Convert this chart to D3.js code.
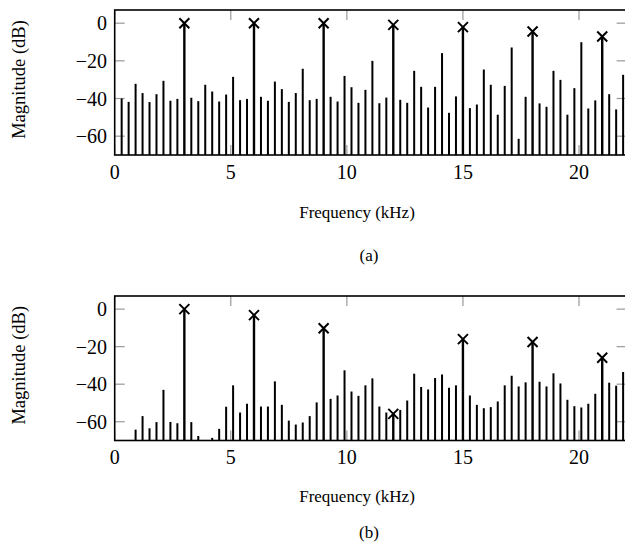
<!DOCTYPE html>
<html>
<head>
<meta charset="utf-8">
<script src="https://cdn.jsdelivr.net/npm/d3@7"></script>
<style>
  body { margin: 0; background: #fff; }
  text { font-family: "Liberation Serif", "Times New Roman", serif; fill: #000; }
</style>
</head>
<body>
<svg id="chart" width="625" height="547"></svg>
<script>
// frequency bins (kHz)
const freqs = [0.3, 0.6, 0.9, 1.2, 1.5, 1.8, 2.1, 2.4, 2.7, 3.0,
  3.3, 3.6, 3.9, 4.2, 4.5, 4.8, 5.1, 5.4, 5.7, 6.0,
  6.3, 6.6, 6.9, 7.2, 7.5, 7.8, 8.1, 8.4, 8.7, 9.0,
  9.3, 9.6, 9.9, 10.2, 10.5, 10.8, 11.1, 11.4, 11.7, 12.0,
  12.3, 12.6, 12.9, 13.2, 13.5, 13.8, 14.1, 14.4, 14.7, 15.0,
  15.3, 15.6, 15.9, 16.2, 16.5, 16.8, 17.1, 17.4, 17.7, 18.0,
  18.3, 18.6, 18.9, 19.2, 19.5, 19.8, 20.1, 20.4, 20.7, 21.0,
  21.3, 21.6, 21.9];

// (a) magnitudes in dB, null where the harmonic stem sits
const magA = [-40.0, -41.8, -32.2, -37.1, -41.9, -37.7, -30.6, -41.2, -40.2, null,
  -39.6, -41.4, -32.7, -36.3, -41.6, -37.9, -28.5, -40.9, -40.2, null,
  -39.1, -41.2, -31.0, -35.0, -41.8, -37.1, -24.2, -40.9, -40.2, null,
  -39.1, -41.6, -28.0, -34.0, -42.3, -35.4, -20.0, -42.5, -39.5, null,
  -40.7, -42.3, -25.3, -33.8, -44.8, -33.8, -15.9, -47.6, -38.9, null,
  -45.1, -43.2, -24.6, -32.7, -48.6, -33.3, -12.9, -61.4, -39.1, null,
  -42.6, -44.4, -25.3, -30.1, -48.6, -34.5, -10.1, -45.3, -41.0, null,
  -37.7, -45.8, -27.4];

// (b) magnitudes in dB (null: below the axis floor or harmonic)
const magB = [null, null, -64.2, -57.0, -63.5, -60.2, -43.0, -60.1, -60.8, null,
  -60.2, -67.6, null, -68.6, -63.8, -52.0, -40.6, -55.1, -50.4, null,
  -51.9, -51.9, -38.5, -51.0, -59.4, -61.5, -60.4, -57.0, -49.7, null,
  -47.8, -46.0, -32.6, -43.9, -46.2, -40.6, -36.9, -51.9, -55.1, null,
  -53.7, -48.7, -34.4, -41.5, -42.8, -36.7, -34.8, -41.9, -40.6, null,
  -46.0, -51.0, -52.8, -52.2, -49.2, -40.6, -35.5, -41.2, -39.0, null,
  -38.7, -41.2, -34.2, -39.6, -48.3, -51.7, -52.4, -50.4, -45.1, null,
  -39.2, -40.8, -33.5];

const harmFreqs = [3, 6, 9, 12, 15, 18, 21];
const harmA = [0, 0, 0, -0.9, -2.1, -4.4, -7.1];
const harmB = [0, -3.2, -10.2, -55.8, -16.0, -17.5, -25.9];

const xTicks = [0, 5, 10, 15, 20];
const yTicks = [-60, -40, -20, 0];

const svg = d3.select('#chart');

const left = 114.7, right = 626.6;
const x = d3.scaleLinear().domain([0, 22.05]).range([left, right]);

function drawPanel(cfg) {
  const y = d3.scaleLinear().domain([-70, 7]).range([cfg.bottom, cfg.top]);
  const g = svg.append('g');

  // ticks (inside, gray, mirrored)
  const tickLen = 10;
  g.selectAll('.xt').data(xTicks).enter().append('g')
    .each(function (d) {
      const s = d3.select(this);
      s.append('line').attr('x1', x(d)).attr('x2', x(d))
        .attr('y1', cfg.bottom).attr('y2', cfg.bottom - tickLen);
      s.append('line').attr('x1', x(d)).attr('x2', x(d))
        .attr('y1', cfg.top).attr('y2', cfg.top + tickLen);
    })
    .selectAll('line').attr('stroke', '#999').attr('stroke-width', 1.2);

  g.selectAll('.yt').data(yTicks).enter().append('g')
    .each(function (d) {
      const s = d3.select(this);
      s.append('line').attr('x1', left).attr('x2', left + tickLen)
        .attr('y1', y(d)).attr('y2', y(d));
      s.append('line').attr('x1', right).attr('x2', right - tickLen)
        .attr('y1', y(d)).attr('y2', y(d));
    })
    .selectAll('line').attr('stroke', '#999').attr('stroke-width', 1.2);

  // spectrum bars
  const bars = freqs.map((f, i) => ({ f: f, v: cfg.mags[i] })).filter(d => d.v != null);
  g.selectAll('.bar').data(bars).enter().append('line')
    .attr('x1', d => x(d.f)).attr('x2', d => x(d.f))
    .attr('y1', y(-70)).attr('y2', d => y(d.v))
    .attr('stroke', '#000').attr('stroke-width', 2);

  // harmonic stems with x markers
  const harm = harmFreqs.map((f, i) => ({ f: f, v: cfg.harm[i] }));
  g.selectAll('.stem').data(harm).enter().append('line')
    .attr('x1', d => x(d.f)).attr('x2', d => x(d.f))
    .attr('y1', y(-70)).attr('y2', d => y(d.v))
    .attr('stroke', '#000').attr('stroke-width', 2.4);

  const m = 5;
  g.selectAll('.mark').data(harm).enter().append('path')
    .attr('d', d => {
      const cx = x(d.f), cy = y(d.v);
      return `M${cx - m},${cy - m}L${cx + m},${cy + m}M${cx - m},${cy + m}L${cx + m},${cy - m}`;
    })
    .attr('stroke', '#000').attr('stroke-width', 2).attr('fill', 'none');

  // frame
  g.append('rect')
    .attr('x', left).attr('y', cfg.top)
    .attr('width', right - left).attr('height', cfg.bottom - cfg.top)
    .attr('fill', 'none').attr('stroke', '#000').attr('stroke-width', 1.6);

  // tick labels
  const fmt = d3.format('d');
  g.selectAll('.xl').data(xTicks).enter().append('text')
    .attr('x', d => x(d)).attr('y', cfg.bottom + cfg.tickDy)
    .attr('text-anchor', 'middle').style('font-size', '20px')
    .text(d => fmt(d));

  g.selectAll('.yl').data(yTicks).enter().append('text')
    .attr('x', 107).attr('y', d => y(d) + 7)
    .attr('text-anchor', 'end').style('font-size', '20px')
    .text(d => fmt(d));

  // axis labels
  g.append('text')
    .attr('x', 357).attr('y', cfg.bottom + cfg.labelDy)
    .attr('text-anchor', 'middle').style('font-size', '17px')
    .text('Frequency (kHz)');

  g.append('text')
    .attr('transform', `translate(25,${(cfg.top + cfg.bottom) / 2 - 3}) rotate(-90)`)
    .attr('text-anchor', 'middle').style('font-size', '18.5px')
    .text('Magnitude (dB)');

  g.append('text')
    .attr('x', 369).attr('y', cfg.bottom + cfg.capDy)
    .attr('text-anchor', 'middle').style('font-size', '17px')
    .text(cfg.caption);
}

drawPanel({ top: 10, bottom: 155, mags: magA, harm: harmA, caption: '(a)',
  tickDy: 24, labelDy: 63, capDy: 106 });
drawPanel({ top: 296, bottom: 440.5, mags: magB, harm: harmB, caption: '(b)',
  tickDy: 23, labelDy: 61, capDy: 97 });
</script>
</body>
</html>
